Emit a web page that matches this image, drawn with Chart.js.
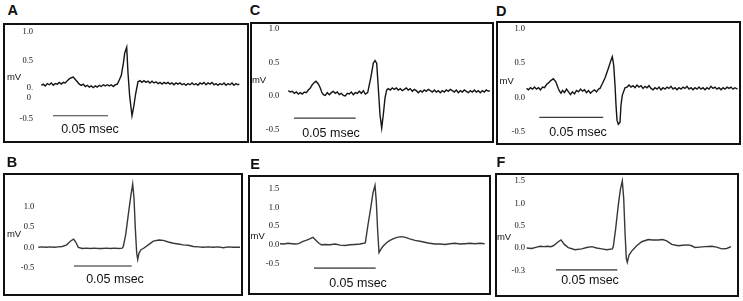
<!DOCTYPE html>
<html><head><meta charset="utf-8">
<script src="https://cdn.jsdelivr.net/npm/chart.js@4.4.1/dist/chart.umd.min.js"></script>
<style>
html,body{margin:0;padding:0;background:#fff;}
body{width:743px;height:301px;position:relative;overflow:hidden;font-family:"Liberation Sans",Arial,sans-serif;}
.box{position:absolute;border:2px solid #111;box-sizing:border-box;background:#fff;}
.box canvas{position:absolute;left:0;top:0;}
.t{position:absolute;transform:translate(-50%,-50%);white-space:nowrap;line-height:1;color:#111;}
.letter{font-weight:bold;font-size:14.5px;}
.mv{font-size:9.5px;}
.ms{font-size:12.5px;}
</style></head><body>
<script>
// ---- data (time in samples, voltage in mV) ----
const traceA = [[0,.08],[2,.10],[4,.07],[6,.11],[8,.09],[10,.12],[12,.08],[14,.11],[16,.10],[18,.13],[20,.10],[22,.13],[24,.12],[26,.16],[28,.19],[30,.21],[32,.22],[34,.18],[36,.14],[38,.10],[40,.08],[42,.10],[44,.06],[46,.08],[48,.05],[50,.07],[52,.04],[54,.07],[56,.05],[58,.08],[60,.06],[62,.09],[64,.07],[66,.09],[68,.07],[70,.09],[72,.06],[74,.09],[76,.10],[78,.17],[80,.25],[82,.45],[83.4,.63],[84.4,.68],[85.4,.73],[86.7,.29],[88.4,-.11],[90.7,-.44],[92.4,-.29],[94.4,-.06],[96.7,.14],[98.7,.16],[100.7,.13],[102.7,.16],[104.7,.13],[106.7,.15],[108.7,.12],[110.7,.15],[112.7,.12],[114.7,.14],[116.7,.11],[118.7,.13],[120.7,.10],[122.7,.13],[124.7,.11],[126.7,.13],[128.7,.10],[130.7,.12],[132.7,.09],[134.7,.12],[136.7,.10],[138.7,.12],[140.7,.09],[142.7,.11],[144.7,.08],[146.7,.11],[148.7,.09],[150.7,.12],[152.7,.09],[154.7,.11],[156.7,.08],[158.7,.12],[160.7,.10],[162.7,.13],[164.7,.09],[166.7,.12],[168.7,.10],[170.7,.13],[172.7,.09],[174.7,.11],[176.7,.08],[178.7,.11],[180.7,.09],[182.7,.12],[184.7,.08],[186.7,.11],[188.7,.09],[190.7,.12],[192.7,.08],[194.7,.11],[196.7,.09],[198,.10]];
const traceC = [[0,.08],[2,.06],[4,.07],[6,.04],[8,.06],[10,.03],[12,.05],[14,.03],[16,.06],[18,.05],[20,.09],[22,.12],[24,.17],[26,.20],[27.7,.22],[30,.18],[32,.12],[33.4,.06],[35,.02],[37,.01],[39,.05],[41,.02],[43,.05],[45,.07],[47,.04],[49,.06],[51,.02],[53,.04],[55,.01],[57,.00],[59,.04],[61,.03],[63,.06],[65,.02],[67,.05],[69,.04],[71,.07],[73,.04],[75,.08],[77,.03],[79.4,.05],[82.7,.29],[85,.49],[86.7,.53],[88.4,.49],[90,.12],[91.7,-.28],[93.4,-.48],[95,-.28],[96.7,-.03],[98.4,.09],[100,.11],[102,.09],[104,.12],[106,.10],[108,.12],[110,.09],[112,.11],[114,.08],[116,.10],[118,.12],[120,.09],[122,.11],[124,.07],[126,.10],[128,.08],[130,.05],[132,.08],[134,.06],[136,.09],[138,.07],[140,.10],[142,.08],[144,.06],[146,.09],[148,.06],[150,.08],[152,.05],[154,.08],[156,.06],[158,.09],[160,.07],[162,.10],[164,.08],[166,.06],[168,.09],[170,.05],[172,.08],[174,.06],[176,.09],[178,.07],[180,.05],[182,.08],[184,.06],[186,.09],[188,.06],[190,.08],[192,.05],[194,.08],[196,.06],[198,.09],[200,.07],[201.7,.08]];
const traceD = [[0,.13],[2,.11],[4,.14],[6,.12],[8,.15],[10,.12],[12,.14],[14,.11],[16,.15],[18,.14],[20.2,.19],[22,.21],[24,.24],[26.8,.27],[29.2,.23],[31.8,.13],[33,.09],[34.5,.06],[36,.10],[38,.07],[40,.12],[42,.08],[44,.04],[46,.08],[48,.05],[50,.10],[52,.08],[54,.12],[56,.09],[58,.11],[60,.07],[62,.10],[64,.06],[66,.09],[68,.11],[70,.08],[72,.12],[73.5,.13],[75.2,.18],[78.5,.28],[81.8,.42],[84.5,.54],[85.8,.59],[87.2,.47],[88.5,.18],[89.5,-.11],[90.5,-.33],[91.8,-.39],[93.5,-.36],[94.5,-.11],[95.8,.03],[98.5,.14],[100.5,.15],[102.5,.18],[104.5,.15],[106.5,.17],[108.5,.14],[110.5,.18],[112.5,.15],[114.5,.17],[116.5,.13],[118.5,.16],[120.5,.14],[122.5,.17],[124.5,.13],[126.5,.11],[128.5,.14],[130.5,.12],[132.5,.15],[134.5,.11],[136.5,.14],[138.5,.12],[140.5,.15],[142.5,.13],[144.5,.16],[146.5,.12],[148.5,.14],[150.5,.11],[152.5,.14],[154.5,.12],[156.5,.15],[158.5,.13],[160.5,.16],[162.5,.12],[164.5,.14],[166.5,.11],[168.5,.14],[170.5,.12],[172.5,.15],[174.5,.12],[176.5,.14],[178.5,.11],[180.5,.14],[182.5,.12],[184.5,.16],[186.5,.13],[188.5,.15],[190.5,.12],[192.5,.14],[194.5,.11],[196.5,.14],[198.5,.12],[200.5,.15],[202.5,.13],[204.5,.15],[206.5,.12],[208.5,.14],[211,.12]];
const traceB = [[0,0],[4,.01],[8,0],[12,.01],[16,0],[20,.01],[24,.02],[28.4,.06],[30.5,.11],[32.7,.16],[35.4,.20],[37.4,.13],[40,0],[44,-.03],[48,-.02],[52,-.03],[56,-.02],[60,-.03],[64,-.03],[68,-.02],[72,-.03],[76,-.02],[80,-.03],[84,-.02],[85,.02],[87.4,.31],[90,.80],[92.7,1.29],[94.4,1.55],[95.7,1.21],[97,.47],[98.4,-.14],[99.4,-.30],[100.7,-.14],[102.7,-.06],[105,-.03],[110,.06],[115,.15],[120.7,.18],[125,.17],[130,.13],[135,.10],[140,.08],[145,.06],[150,.05],[155,.02],[160,.01],[165,0],[170,.01],[175,0],[180,.01],[185,-.01],[190,.01],[195,0],[201.7,0]];
const traceE = [[0,.03],[4,.02],[8,.04],[12,.03],[16,.02],[19,.04],[23,.09],[26,.12],[29.7,.16],[33,.20],[36.3,.11],[39,.04],[41.3,0],[45,.01],[50,0],[55,.02],[60,-.01],[65,-.02],[70,0],[75,.01],[80,.02],[85.3,.05],[88,.54],[90.7,.99],[93,1.40],[95,1.60],[96.3,1.17],[97.7,.36],[99,-.21],[100.7,-.13],[103,-.04],[106.3,.05],[109.5,.11],[113,.16],[117,.20],[121.3,.22],[125.5,.20],[129.7,.16],[135,.12],[141.3,.09],[148,.05],[154.7,.02],[160,.02],[165,.01],[170,.03],[175,.04],[180,.02],[185,.03],[190,.04],[195,.03],[200,.04],[204.7,.03]];
const traceF = [[0,0],[5,-.01],[10,.02],[13.3,.04],[17,.03],[21,.04],[24,.03],[26.6,.05],[31.6,.14],[34.3,.18],[37.6,.08],[41.6,.01],[48.3,-.04],[55,-.02],[60,.01],[65,.03],[70,0],[75,-.02],[80,-.04],[85.6,-.02],[86.6,.03],[89,.44],[91.6,.96],[93.6,1.30],[95.6,1.50],[97,1.11],[98.3,.36],[99.6,-.23],[100.6,-.32],[102.3,-.16],[105,-.07],[110,.05],[115,.14],[121.6,.19],[126,.18],[131.6,.18],[136,.19],[140,.16],[145,.08],[151.6,.05],[156,.06],[161.6,.07],[165,.05],[168.3,.01],[173,.02],[178.3,.03],[185,.04],[190,.02],[195,-.02],[200,-.01],[204.3,.03]];
// 0.05 msec scale bars (start/end sample, level in mV)
const barA = [[11.7,-.44],[66.7,-.44]];
const barC = [[5.7,-.33],[67.4,-.33]];
const barD = [[12.8,-.29],[76.8,-.29]];
const barB = [[35.7,-.46],[93.4,-.46]];
const barE = [[34,-.63],[95.7,-.63]];
const barF = [[29.3,-.49],[90.6,-.49]];
// tick values and labels
const ticks4 = [1.0,0.5,0,-0.5];
const ticks5 = [1.5,1.0,0.5,0,-0.5];
const labelsA = ["1.0","0.5",["0.","0"],"-0.5"];
const labels4 = ["1.0","0.5","0.0","-0.5"];
const labelsE = ["1.5","1.0","0.5","0.0","-0.5"];
const labelsF = ["1.5","1.0","0.5","0.0","-0.3"];
const panelNames = ["A","C","D","B","E","F"];
const barText = "0.05 msec";
const unitText = "mV";

// ---- layout (page pixels) ----
const panels = [
 {name:panelNames[0], trace:traceA, bar:barA, ticks:ticks4, labels:labelsA, box:[3,23,246,120], plot:[41.3,239.3], zeroY:90, k:58.5, labelRight:33, letter:[12.8,10], mv:[14,76.5], ms:[90,128.5], top:true},
 {name:panelNames[1], trace:traceC, bar:barC, ticks:ticks4, labels:labels4, box:[250,22,244,121], plot:[288.3,490], zeroY:96, k:66.9, labelRight:279.3, letter:[255,9.5], mv:[259,80], ms:[331,132.5], top:true},
 {name:panelNames[2], trace:traceD, bar:barD, ticks:ticks4, labels:labels4, box:[496,21,245,124], plot:[526.5,737.5], zeroY:97.4, k:69, labelRight:525, letter:[501.3,10.5], mv:[506.7,81], ms:[578,131.7], top:true},
 {name:panelNames[3], trace:traceB, bar:barB, ticks:ticks4, labels:labels4, box:[3,173,240,123], plot:[38.3,240], zeroY:247.3, k:40.8, labelRight:34.3, letter:[12,162], mv:[14,233.7], ms:[115,279], top:false},
 {name:panelNames[4], trace:traceE, bar:barE, ticks:ticks5, labels:labelsE, box:[248,175,243,120], plot:[280,484.7], zeroY:244.8, k:37.1, labelRight:279.3, letter:[255,163.8], mv:[257.7,236], ms:[358,282.5], top:false},
 {name:panelNames[5], trace:traceF, bar:barF, ticks:ticks5, labels:labelsF, box:[495,173,244,124], plot:[526.7,731], zeroY:248, k:44.7, labelRight:525, letter:[501,161.7], mv:[504,237], ms:[590,280], top:false}
];

function addText(cls, txt, pos){
  const s = document.createElement('div');
  s.className = 't ' + cls; s.textContent = txt;
  s.style.left = pos[0] + 'px'; s.style.top = pos[1] + 'px';
  document.body.appendChild(s);
}

panels.forEach(p => {
  const [bl, bt, bw, bh] = p.box;
  const div = document.createElement('div');
  div.className = 'box';
  div.style.left = bl + 'px'; div.style.top = bt + 'px';
  div.style.width = bw + 'px'; div.style.height = bh + 'px';
  const cv = document.createElement('canvas');
  cv.width = bw - 4; cv.height = bh - 4;
  div.appendChild(cv);
  document.body.appendChild(div);
  const cl = bl + 2, ct = bt + 2;
  const areaLeft = p.plot[0] - cl, areaRight = p.plot[1] - cl;
  const yMax = (p.zeroY - ct) / p.k;
  const yMin = (p.zeroY - (ct + cv.height)) / p.k;
  const lineCol = p.top ? '#151515' : '#383838';
  const barCol = p.top ? '#3a3a3a' : '#6a6a6a';
  const pad = p.plot[0] - p.labelRight;
  // y tick labels, positioned by the chart's own y scale
  const tickLabels = {
    id: 'tickLabels' + p.name,
    afterDraw(chart) {
      const ys = chart.scales.y, ctx = chart.ctx;
      const right = chart.chartArea.left - pad;
      ctx.save();
      ctx.font = '8.5px "Liberation Serif", "Times New Roman", serif';
      ctx.fillStyle = '#111';
      ctx.textBaseline = 'middle';
      p.ticks.forEach((v, i) => {
        const lab = p.labels[i];
        const y = ys.getPixelForValue(v);
        if (Array.isArray(lab)) {
          const w = ctx.measureText(lab[0]).width;
          ctx.textAlign = 'left';
          lab.forEach((l, j) => ctx.fillText(l, right - w, y + 3 + (j - (lab.length - 1) / 2) * 10));
        } else {
          ctx.textAlign = 'right';
          ctx.fillText(lab, right, y);
        }
      });
      ctx.restore();
    }
  };
  new Chart(cv, {
    type: 'line',
    data: { datasets: [
      { data: p.trace.map(d => ({x:d[0], y:d[1]})), borderColor: lineCol, borderWidth: 1.4, pointRadius: 0, tension: 0, clip: false, fill: false },
      { data: p.bar.map(d => ({x:d[0], y:d[1]})), borderColor: barCol, borderWidth: p.top ? 1.2 : 1.6, pointRadius: 0, tension: 0, clip: false, fill: false }
    ]},
    options: {
      responsive: false, animation: false, devicePixelRatio: 1, events: [],
      plugins: { legend: {display:false}, tooltip: {enabled:false} },
      layout: { padding: { left: areaLeft, right: cv.width - areaRight, top: 0, bottom: 0 } },
      scales: {
        x: { type: 'linear', display: false, min: 0, max: p.plot[1] - p.plot[0] },
        y: { type: 'linear', display: false, min: yMin, max: yMax }
      }
    },
    plugins: [tickLabels]
  });
  addText('letter', p.name, p.letter);
  addText('mv', unitText, p.mv);
  addText('ms', barText, p.ms);
});
</script></body></html>
